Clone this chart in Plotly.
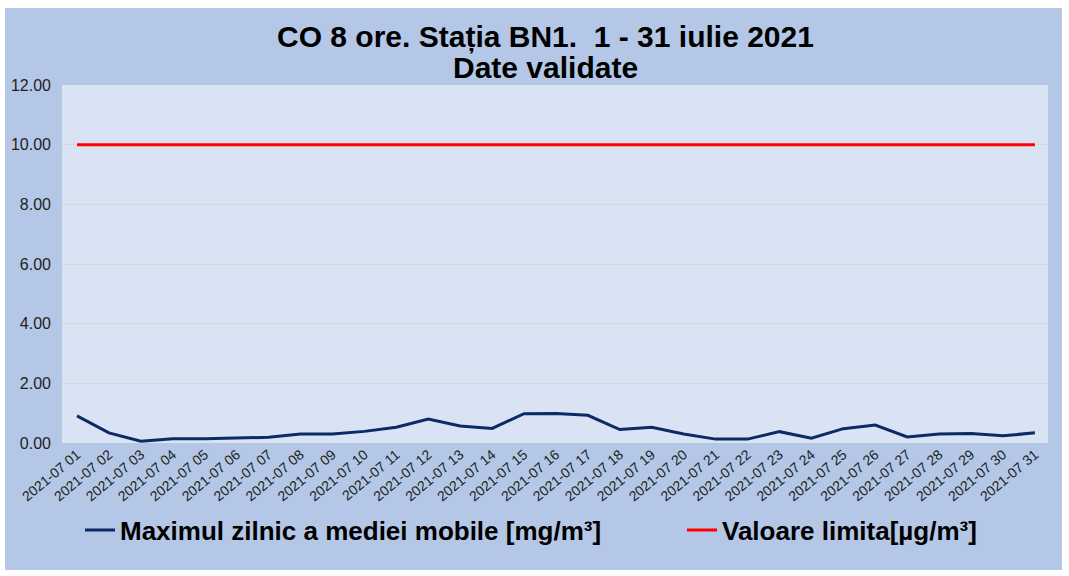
import plotly.graph_objects as go

dates = [f"2021-07 {d:02d}" for d in range(1, 32)]
co_max = [0.91, 0.34, 0.06, 0.14, 0.14, 0.16, 0.19, 0.30, 0.30, 0.39,
          0.53, 0.80, 0.57, 0.49, 0.98, 0.99, 0.93, 0.45, 0.53, 0.30,
          0.13, 0.13, 0.38, 0.16, 0.48, 0.60, 0.20, 0.30, 0.32, 0.24, 0.34]
limit = [10.0] * 31
y_ticks = [0, 2, 4, 6, 8, 10, 12]
title_lines = ["CO 8 ore. Stația BN1.  1 - 31 iulie 2021", "Date validate"]

FONT = "Liberation Sans, Arial, sans-serif"

fig = go.Figure()
fig.add_trace(go.Scatter(x=dates, y=co_max, mode="lines",
                         name="Maximul zilnic a mediei mobile [mg/m³]",
                         line=dict(color="#0b2a66", width=3), legend="legend"))
fig.add_trace(go.Scatter(x=dates, y=limit, mode="lines",
                         name="Valoare limita[µg/m³]",
                         line=dict(color="#ff0000", width=3), legend="legend2"))

L, R, T, B = 62, 21, 85, 133
W, H = 1069, 576
pw, ph = W - L - R, H - T - B

def px_x(p):
    return (p - L) / pw

def px_y(p):
    return (H - B - p) / ph

fig.add_shape(type="rect", xref="paper", yref="paper",
              x0=px_x(5), x1=px_x(1062), y0=px_y(570), y1=px_y(8),
              fillcolor="#b4c7e7", line=dict(width=0), layer="below")
fig.add_shape(type="rect", xref="paper", yref="paper",
              x0=0, x1=1, y0=0, y1=1,
              fillcolor="#dae3f3", line=dict(width=0), layer="below")

for txt, yc in zip(title_lines, [37, 67]):
    fig.add_annotation(text=f"<b>{txt}</b>", xref="paper", yref="paper",
                       x=px_x(545), y=px_y(yc), xanchor="center", yanchor="middle",
                       showarrow=False,
                       font=dict(size=30, family=FONT, color="#000000"))

leg_font = dict(size=26, family=FONT, color="#000000", weight="bold")
fig.update_layout(
    width=W, height=H,
    margin=dict(l=L, r=R, t=T, b=B),
    paper_bgcolor="white",
    plot_bgcolor="#dae3f3",
    font=dict(family=FONT, color="#000000"),
    showlegend=True,
    legend=dict(orientation="h", x=px_x(80), xanchor="left", y=px_y(530), yanchor="middle",
                font=leg_font, bgcolor="rgba(0,0,0,0)", itemwidth=30),
    legend2=dict(orientation="h", x=px_x(682), xanchor="left", y=px_y(530), yanchor="middle",
                 font=leg_font, bgcolor="rgba(0,0,0,0)", itemwidth=30),
    xaxis=dict(type="category", range=[-0.47, 30.41], tickangle=-40,
               tickfont=dict(size=14, family=FONT, color="#222222"),
               showgrid=False, zeroline=False, showline=False, ticks="",
               automargin=False),
    yaxis=dict(range=[0, 12], tickvals=y_ticks, tickformat=".2f",
               tickfont=dict(size=16, family=FONT, color="#222222"),
               gridcolor="#d9d9d9", gridwidth=1, zeroline=False, showline=False,
               ticklabelstandoff=10, automargin=False),
)

fig.write_html("out.html", config={"displayModeBar": False},
               post_script="document.body.style.margin='0';document.body.style.padding='0';")
